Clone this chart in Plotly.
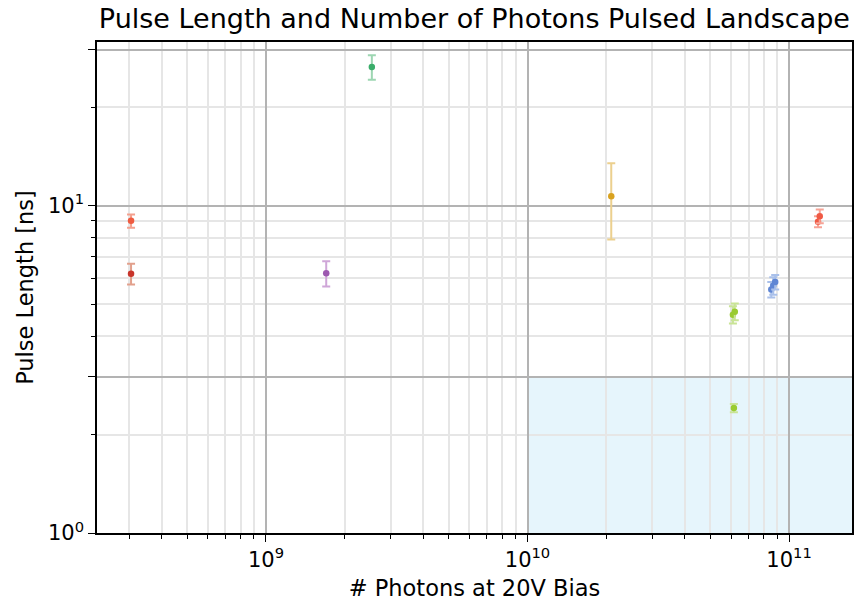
import numpy as np
import plotly.graph_objects as go

# Measurements: photon count at 20 V bias, pulse length (ns) and its uncertainty
photons = [3.05e8, 3.05e8, 1.70e9, 2.54e9, 2.09e10,
           6.10e10, 6.20e10, 6.15e10,
           8.55e10, 8.70e10, 8.85e10,
           1.29e11, 1.31e11]
pulse_ns = [9.0, 6.2, 6.22, 26.6, 10.7,
            4.65, 4.75, 2.41,
            5.55, 5.70, 5.85,
            8.95, 9.30]
pulse_err = [0.42, 0.45, 0.55, 2.3, 2.8,
             0.28, 0.28, 0.07,
             0.30, 0.35, 0.30,
             0.35, 0.45]
point_colors = ["#ef5b40", "#c8342a", "#9d59b0", "#3aad6a", "#d9a21f",
                "#9acb30", "#9acb30", "#9acb30",
                "#5f86d4", "#5f86d4", "#5f86d4",
                "#f05a45", "#f05a45"]
bar_colors = ["#f4a08e", "#e2a08c", "#cfa6d8", "#9dd6b2", "#ecd08e",
              "#c9e496", "#c9e496", "#c9e496",
              "#a9c0ea", "#a9c0ea", "#a9c0ea",
              "#f6a396", "#f6a396"]

# Axis layout values
x_major = [1e9, 1e10, 1e11]
x_major_text = ["10<sup>9</sup>", "10<sup>10</sup>", "10<sup>11</sup>"]
x_minor = [m * 10.0**e for e in (8, 9, 10) for m in range(2, 10)]
y_major = [1, 3, 10, 30]
y_major_text = ["10<sup>0</sup>", "", "10<sup>1</sup>", ""]
y_minor = [2, 4, 5, 6, 7, 8, 9, 20]
x_lo, x_hi = 2.26e8, 1.74e11
y_lo, y_hi = 1.0, 31.7

# Target region (high photon count, short pulse)
region_x = [1e10, x_hi]
region_y = [1.0, 3.0]

fig = go.Figure()

fig.add_shape(type="rect", xref="x", yref="y",
              x0=region_x[0], x1=region_x[1], y0=region_y[0], y1=region_y[1],
              fillcolor="#e6f5fc", line_width=0, layer="below")

for xv, yv, ev, c, bc in zip(photons, pulse_ns, pulse_err, point_colors, bar_colors):
    fig.add_trace(go.Scatter(
        x=[xv], y=[yv], mode="markers",
        marker=dict(color=c, size=6.5),
        error_y=dict(type="data", array=[ev], color=bc,
                     thickness=2, width=4),
        showlegend=False,
    ))

font_family = "DejaVu Sans"
fig.update_layout(
    width=861, height=601,
    margin=dict(l=97, r=9, t=42, b=68),
    paper_bgcolor="white", plot_bgcolor="white",
    font=dict(family=font_family, color="black", size=22),
    title=dict(text="Pulse Length and Number of Photons Pulsed Landscape",
               x=0.551, xref="container", xanchor="center",
               y=1 - 19 / 601, yref="container", yanchor="middle",
               font=dict(size=27, family=font_family, color="black")),
)

fig.update_xaxes(
    type="log", range=[np.log10(x_lo), np.log10(x_hi)],
    tickmode="array", tickvals=x_major, ticktext=x_major_text,
    ticks="outside", ticklen=7, tickwidth=1.3, tickcolor="black",
    showgrid=True, gridcolor="#b3b3b3", gridwidth=1.5,
    minor=dict(tickmode="array", tickvals=x_minor, ticks="outside",
               ticklen=4, tickwidth=1.0, tickcolor="black",
               showgrid=True, gridcolor="#e6e6e6", gridwidth=1.5),
    showline=True, linecolor="black", linewidth=1.6, mirror=True,
    zeroline=False, tickfont=dict(size=21), automargin=False,
    title=dict(text="# Photons at 20V Bias", font=dict(size=22.5), standoff=10),
)
fig.update_yaxes(
    type="log", range=[np.log10(y_lo), np.log10(y_hi)],
    tickmode="array", tickvals=y_major, ticktext=y_major_text,
    ticks="outside", ticklen=7, tickwidth=1.3, tickcolor="black",
    showgrid=True, gridcolor="#b3b3b3", gridwidth=1.5,
    minor=dict(tickmode="array", tickvals=y_minor, ticks="outside",
               ticklen=4, tickwidth=1.0, tickcolor="black",
               showgrid=True, gridcolor="#e6e6e6", gridwidth=1.5),
    showline=True, linecolor="black", linewidth=1.6, mirror=True,
    zeroline=False, tickfont=dict(size=21), automargin=False,
    title=dict(text="Pulse Length [ns]", font=dict(size=22.5), standoff=8),
)

fig.write_html("out.html")
